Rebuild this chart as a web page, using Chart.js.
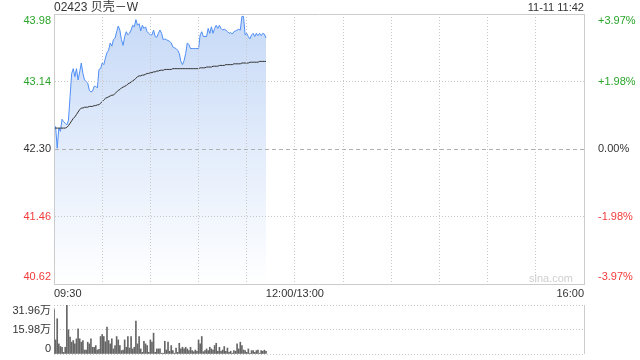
<!DOCTYPE html>
<html><head><meta charset="utf-8">
<script src="https://cdn.jsdelivr.net/npm/chart.js@4.4.0/dist/chart.umd.min.js"></script>
<style>
html,body{margin:0;padding:0;background:#fff;}
#wrap{position:relative;width:640px;height:360px;overflow:hidden;font-family:Arial,"Liberation Sans","Noto Sans CJK SC",sans-serif;}
#title{position:absolute;left:54px;top:0px;font-size:12px;color:#333;line-height:15px;white-space:nowrap;}
#time{position:absolute;right:56px;top:0px;font-size:11px;color:#333;line-height:15px;white-space:nowrap;}
#c1{position:absolute;left:0;top:0;}
#c2{position:absolute;left:0;top:300px;}
</style></head><body>
<div id="wrap">
<canvas id="c1" width="640" height="300"></canvas>
<canvas id="c2" width="640" height="60"></canvas>
<div id="title"></div>
<div id="time"></div>
</div>
<script>
const stockTitle = '02423 贝壳－W';
const stampText = '11-11 11:42';
const watermarkText = 'sina.com';
const prevClose = 42.30;
const sessionMinutes = 330;

const prices = [
42.52,42.58,42.31,42.56,42.52,42.67,42.64,42.62,42.60,42.66,
42.95,43.24,43.30,43.20,43.30,43.16,43.26,43.37,43.24,43.16,
43.14,43.12,43.03,43.01,43.02,43.08,43.08,43.06,43.29,43.30,
43.37,43.35,43.43,43.50,43.53,43.62,43.58,43.66,43.68,43.76,
43.83,43.78,43.66,43.59,43.70,43.76,43.72,43.74,43.78,43.84,
43.82,43.91,43.84,43.86,43.77,43.84,43.80,43.82,43.76,43.74,
43.72,43.72,43.78,43.70,43.69,43.74,43.78,43.74,43.66,43.67,
43.66,43.65,43.64,43.62,43.57,43.56,43.55,43.53,43.49,43.39,
43.35,43.40,43.49,43.62,43.60,43.55,43.55,43.55,43.55,43.55,
43.55,43.72,43.76,43.70,43.70,43.70,43.80,43.74,43.82,43.74,
43.80,43.84,43.80,43.84,43.80,43.78,43.79,43.78,43.76,43.74,
43.75,43.73,43.76,43.77,43.78,43.79,43.78,43.95,43.95,43.72,
43.74,43.70,43.67,43.72,43.74,43.70,43.74,43.71,43.74,43.71,
43.74,43.73,43.68];

const avgPrices = [
42.56,42.56,42.56,42.56,42.56,42.56,42.56,42.56,42.57,42.59,
42.62,42.65,42.68,42.70,42.73,42.76,42.79,42.81,42.81,42.82,
42.82,42.82,42.83,42.83,42.83,42.84,42.84,42.85,42.85,42.87,
42.89,42.91,42.93,42.94,42.95,42.96,42.97,42.97,42.99,43.01,
43.03,43.04,43.06,43.07,43.08,43.09,43.11,43.12,43.13,43.15,
43.16,43.18,43.20,43.21,43.21,43.22,43.22,43.23,43.24,43.24,
43.25,43.25,43.26,43.26,43.27,43.27,43.28,43.28,43.28,43.29,
43.29,43.29,43.29,43.29,43.30,43.30,43.30,43.30,43.30,43.30,
43.30,43.30,43.30,43.30,43.30,43.30,43.30,43.30,43.30,43.30,
43.30,43.31,43.31,43.31,43.31,43.32,43.32,43.32,43.32,43.33,
43.33,43.33,43.33,43.34,43.34,43.34,43.34,43.35,43.35,43.35,
43.35,43.35,43.36,43.36,43.36,43.36,43.36,43.37,43.37,43.37,
43.37,43.37,43.38,43.38,43.38,43.38,43.38,43.38,43.39,43.39,
43.39,43.39,43.39];

// volume in 万 shares
const volumes = [
28.9,9.2,23.0,6.6,4.9,4.4,1.1,4.4,31.9,15.8,
11.0,7.7,8.8,6.6,9.9,16.4,9.9,7.7,8.8,2.6,
2.6,7.7,6.6,9.9,4.4,4.4,5.5,2.6,3.0,11.4,
12.7,11.4,8.0,17.5,8.8,6.6,9.9,3.3,5.5,11.4,
9.2,5.5,2.2,2.6,9.2,4.4,11.4,3.9,11.4,3.3,
4.4,21.5,6.6,11.4,3.3,1.1,8.3,6.6,5.5,1.1,
9.2,7.7,13.6,1.1,3.3,3.3,3.3,0.5,0.5,8.3,
2.6,7.7,1.8,5.5,2.2,0.5,3.9,1.1,7.0,3.3,
4.4,3.3,4.4,3.3,2.2,4.4,2.2,1.5,2.6,1.8,
9.2,6.6,11.4,1.5,2.2,3.3,2.2,4.4,3.3,2.6,
5.5,7.0,1.8,4.4,1.8,2.6,4.9,1.8,3.9,1.1,
1.8,0.5,2.2,1.8,6.6,3.3,7.7,5.5,2.6,2.2,
1.1,3.3,0.5,2.2,2.2,1.1,2.2,2.6,0.5,2.2,
1.8,2.5,1.8];

const priceTicks = [40.62, 41.46, 42.30, 43.14, 43.98];
const priceTickLabels = ['40.62', '41.46', '42.30', '43.14', '43.98'];
const pctTickLabels = ['-3.97%', '-1.98%', '0.00%', '+1.98%', '+3.97%'];
const timeTicks = [0, 30, 60, 90, 120, 150, 180, 210, 240, 270, 300, 330];
const timeTickLabels = ['09:30', '', '', '', '', '12:00/13:00', '', '', '', '', '', '16:00'];
const volTicks = [0, 15.98, 31.96];
const volTickLabels = ['0', '15.98万', '31.96万'];

document.getElementById('title').textContent = stockTitle;
document.getElementById('time').textContent = stampText;

const FAMILY = 'Arial, "Liberation Sans", "Noto Sans CJK SC", sans-serif';
const UP = '#2ba52b', DOWN = '#f23b3b', FLAT = '#333333';
const GRID = '#c8c8c8', FRAME = '#cccccc';
function priceColor(v) { return v > prevClose + 1e-9 ? UP : (v < prevClose - 1e-9 ? DOWN : FLAT); }
function shiftLabel(label, i, n) {
  if (i === n - 1) return ['', label];
  if (i === 0) return [label, ''];
  return label;
}
const transparent = 'rgba(0,0,0,0)';

const watermark = {
  id: 'wm',
  afterDraw(chart) {
    const { ctx, chartArea: ca } = chart;
    ctx.save();
    ctx.font = '11px ' + FAMILY;
    ctx.fillStyle = '#cfcfcf';
    ctx.textAlign = 'right';
    ctx.textBaseline = 'middle';
    ctx.fillText(watermarkText, ca.right - 11, ca.bottom - 5);
    ctx.restore();
  }
};

new Chart(document.getElementById('c1'), {
  type: 'line',
  data: {
    datasets: [
      {
        data: avgPrices.map((v, i) => ({ x: i, y: v })),
        borderColor: '#333333', borderWidth: 1, pointRadius: 0, fill: false, tension: 0, order: 1
      },
      {
        data: prices.map((v, i) => ({ x: i, y: v })),
        borderColor: '#4f8ef5', borderWidth: 1, pointRadius: 0, tension: 0, fill: 'start', order: 2,
        backgroundColor: (c) => {
          const ca = c.chart.chartArea;
          if (!ca) return 'rgba(200,218,247,0.6)';
          const g = c.chart.ctx.createLinearGradient(0, ca.top, 0, ca.bottom);
          g.addColorStop(0, '#c6d9f7');
          g.addColorStop(1, '#ffffff');
          return g;
        }
      }
    ]
  },
  options: {
    responsive: false, animation: false, devicePixelRatio: 1, events: [],
    layout: { padding: { top: 14, left: 0, right: 0, bottom: 0 } },
    plugins: { legend: { display: false }, tooltip: { enabled: false } },
    scales: {
      x: {
        type: 'linear', min: 0, max: sessionMinutes,
        afterBuildTicks: (s) => { s.ticks = timeTicks.map(v => ({ value: v })); },
        afterFit: (s) => { s.height = 16; s.paddingLeft = 0; s.paddingRight = 0; },
        ticks: { autoSkip: false, maxRotation: 0, align: 'inner', padding: 3, color: '#333',
          font: { family: FAMILY, size: 11 }, callback: (v, i) => timeTickLabels[i] },
        grid: { z: 1, drawTicks: false, lineWidth: 1,
          color: (c) => (c.index === 0 || c.index === timeTicks.length - 1) ? transparent : GRID },
        border: { display: true, color: FRAME, dash: [1, 2], z: 2 }
      },
      y: {
        position: 'left', min: priceTicks[0], max: priceTicks[priceTicks.length - 1],
        afterBuildTicks: (s) => { s.ticks = priceTicks.map(v => ({ value: v })); },
        afterFit: (s) => { s.width = 54; s.paddingTop = 0; s.paddingBottom = 0; },
        ticks: { autoSkip: false, padding: 3, font: { family: FAMILY, size: 11 },
          color: (c) => priceColor(priceTicks[c.index]),
          callback: (v, i) => shiftLabel(priceTickLabels[i], i, priceTicks.length) },
        grid: { z: 1, drawTicks: false, lineWidth: 1,
          color: (c) => c.index === priceTicks.length - 1 ? FRAME :
            (c.index === 0 ? transparent : (priceTicks[c.index] === prevClose ? '#b0b0b0' : GRID)) },
        border: { display: true, color: FRAME, z: 2,
          dash: (c) => (c.index === priceTicks.length - 1) ? [] : (priceTicks[c.index] === prevClose ? [4, 3] : [1, 2]) }
      },
      y2: {
        position: 'right', min: priceTicks[0], max: priceTicks[priceTicks.length - 1],
        afterBuildTicks: (s) => { s.ticks = priceTicks.map(v => ({ value: v })); },
        afterFit: (s) => { s.width = 56; s.paddingTop = 0; s.paddingBottom = 0; },
        ticks: { autoSkip: false, padding: 6, font: { family: FAMILY, size: 11 },
          color: (c) => priceColor(priceTicks[c.index]),
          callback: (v, i) => shiftLabel(pctTickLabels[i], i, priceTicks.length) },
        grid: { display: false },
        border: { display: true, color: FRAME, z: 2 }
      }
    }
  },
  plugins: [watermark]
});

new Chart(document.getElementById('c2'), {
  type: 'bar',
  data: {
    datasets: [{
      data: volumes.map((v, i) => ({ x: i, y: v })),
      backgroundColor: '#666666', borderWidth: 0, barThickness: 1
    }]
  },
  options: {
    responsive: false, animation: false, devicePixelRatio: 1, events: [],
    layout: { padding: { top: 5, left: 0, right: 56, bottom: 0 } },
    plugins: { legend: { display: false }, tooltip: { enabled: false } },
    scales: {
      x: {
        type: 'linear', min: 0, max: sessionMinutes, offset: false,
        afterBuildTicks: (s) => { s.ticks = [{ value: 0 }, { value: sessionMinutes }]; },
        afterFit: (s) => { s.height = 6; s.paddingLeft = 0; s.paddingRight = 0; },
        ticks: { display: false },
        grid: { offset: false, drawTicks: false, lineWidth: 1, color: (c) => c.index === 1 ? FRAME : GRID },
        border: { display: false, dash: (c) => c.index === 1 ? [] : [1, 2] }
      },
      y: {
        position: 'left', min: volTicks[0], max: volTicks[volTicks.length - 1],
        afterBuildTicks: (s) => { s.ticks = volTicks.map(v => ({ value: v })); },
        afterFit: (s) => { s.width = 54; s.paddingTop = 0; s.paddingBottom = 0; },
        ticks: { autoSkip: false, padding: 3, color: '#333',
          font: { family: FAMILY, size: 11, lineHeight: 1.0 },
          callback: (v, i) => shiftLabel(volTickLabels[i], i, volTicks.length) },
        grid: { drawTicks: false, lineWidth: 1, color: GRID },
        border: { display: false, dash: [1, 2] }
      }
    }
  }
});
</script>
</body></html>
